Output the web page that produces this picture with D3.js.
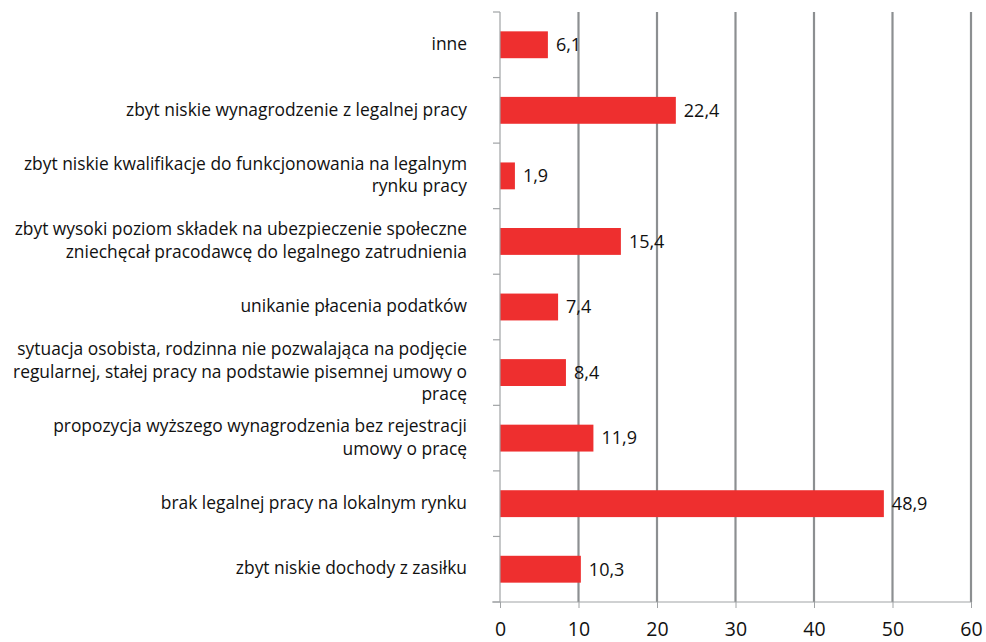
<!DOCTYPE html>
<html><head><meta charset="utf-8">
<script src="https://cdn.jsdelivr.net/npm/d3@7"></script>
<style>body{margin:0;background:#fff}svg{display:block}</style>
</head><body><svg id="c" width="986" height="642"></svg>
<script>
const categories = [
  ["inne"],
  ["zbyt niskie wynagrodzenie z legalnej pracy"],
  ["zbyt niskie kwalifikacje do funkcjonowania na legalnym", "rynku pracy"],
  ["zbyt wysoki poziom składek na ubezpieczenie społeczne", "zniechęcał pracodawcę do legalnego zatrudnienia"],
  ["unikanie płacenia podatków"],
  ["sytuacja osobista, rodzinna nie pozwalająca na podjęcie", "regularnej, stałej pracy na podstawie pisemnej umowy o", "pracę"],
  ["propozycja wyższego wynagrodzenia bez rejestracji", "umowy o pracę"],
  ["brak legalnej pracy na lokalnym rynku"],
  ["zbyt niskie dochody z zasiłku"]
];
const values = [6.1, 22.4, 1.9, 15.4, 7.4, 8.4, 11.9, 48.9, 10.3];
const valueLabels = ["6,1", "22,4", "1,9", "15,4", "7,4", "8,4", "11,9", "48,9", "10,3"];
const xTicks = [0, 10, 20, 30, 40, 50, 60];

const svg = d3.select("#c");
const font = "'Open Sans', 'Noto Sans', sans-serif";
const keys = categories.map((c, i) => i);
const x = d3.scaleLinear().domain([0, 60]).range([500, 971]);
const y = d3.scaleBand().domain(keys).range([12, 602]).paddingInner(0.59).paddingOuter(0.295);

// gridlines
svg.append("g").selectAll("line").data(xTicks.filter(t => t > 0)).join("line")
  .attr("x1", d => x(d)).attr("x2", d => x(d)).attr("y1", 12).attr("y2", 602)
  .attr("stroke", "#8c8f91").attr("stroke-width", 2.2);

// bars
svg.append("g").selectAll("rect").data(values).join("rect")
  .attr("x", x(0)).attr("y", (d, i) => y(i))
  .attr("width", d => x(d) - x(0)).attr("height", y.bandwidth())
  .attr("fill", "#ee2f2f");

// value labels
svg.append("g").selectAll("text").data(values).join("text")
  .attr("x", d => x(d) + 8).attr("y", (d, i) => y(i) + y.bandwidth() / 2)
  .attr("dy", "0.35em").attr("font-family", font).attr("font-size", 18)
  .attr("fill", "#111").text((d, i) => valueLabels[i]);

// x axis
const xAxis = d3.axisBottom(x).tickValues(xTicks).tickSize(6).tickPadding(14).tickFormat(d3.format("d"));
const gx = svg.append("g").attr("transform", "translate(0,602)").call(xAxis);
gx.select(".domain").attr("stroke", "#a0a3a5").attr("d", "M492,0H971");
gx.selectAll(".tick line").attr("stroke", "#a0a3a5");
gx.selectAll(".tick text").attr("font-family", font).attr("font-size", 19.5).attr("fill", "#111");

// y axis line + boundary ticks
const step = y.step();
const boundaries = d3.range(categories.length + 1).map(i => 12 + i * step);
svg.append("line").attr("x1", 500).attr("x2", 500).attr("y1", 12).attr("y2", 602)
  .attr("stroke", "#a0a3a5").attr("stroke-width", 1.2);
svg.append("g").selectAll("line").data(boundaries).join("line")
  .attr("x1", 493).attr("x2", 500).attr("y1", d => d).attr("y2", d => d)
  .attr("stroke", "#a0a3a5").attr("stroke-width", 1.2);

// category labels
const lineH = 22.5;
const lab = svg.append("g");
categories.forEach((lines, i) => {
  const cy = y(i) + y.bandwidth() / 2;
  const t = lab.append("text").attr("text-anchor", "end").attr("font-family", font)
    .attr("font-size", 17.4).attr("fill", "#111");
  lines.forEach((l, j) => {
    t.append("tspan").attr("x", 467)
      .attr("y", cy + (j - (lines.length - 1) / 2) * lineH).attr("dy", "0.3em").text(l);
  });
});
</script></body></html>
